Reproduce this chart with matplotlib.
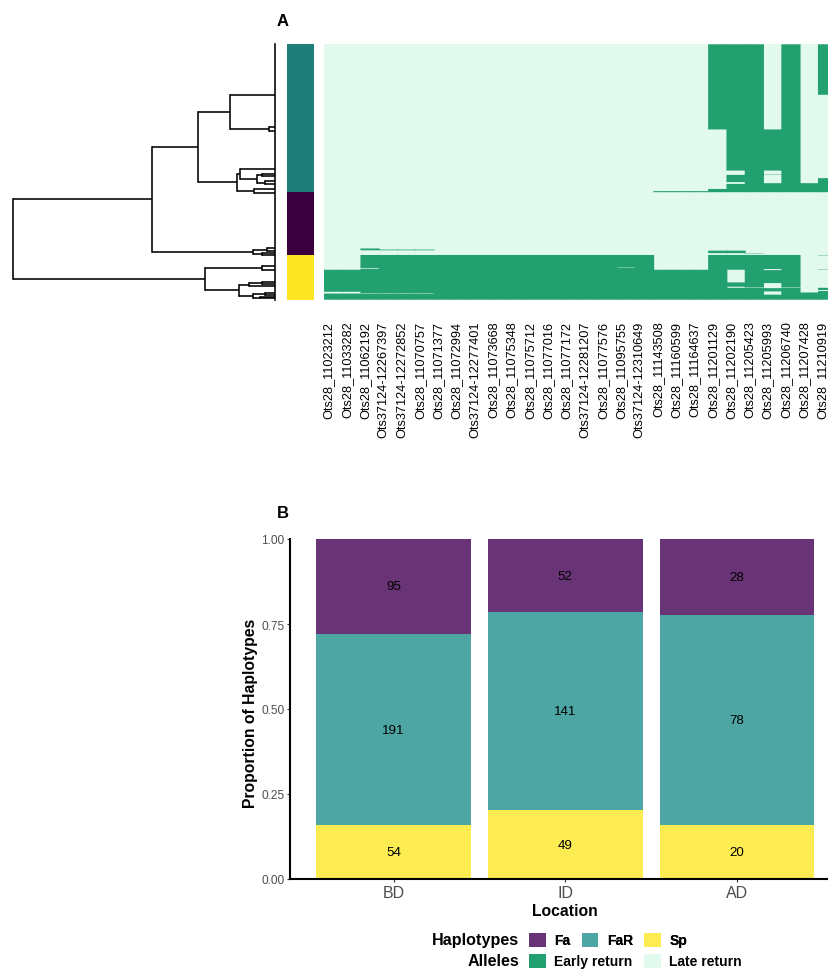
import numpy as np
import matplotlib
matplotlib.use("Agg")
import matplotlib.pyplot as plt
from matplotlib.patches import Patch

plt.rcParams['font.family'] = ['Liberation Sans', 'DejaVu Sans']

# haplotype counts per sampling location
locations = ['BD', 'ID', 'AD']
fa_counts = [95, 52, 28]
far_counts = [191, 141, 78]
sp_counts = [54, 49, 20]

loci = ['Ots28_11023212', 'Ots28_11033282', 'Ots28_11062192', 'Ots37124-12267397',
        'Ots37124-12272852', 'Ots28_11070757', 'Ots28_11071377', 'Ots28_11072994',
        'Ots37124-12277401', 'Ots28_11073668', 'Ots28_11075348', 'Ots28_11075712',
        'Ots28_11077016', 'Ots28_11077172', 'Ots37124-12281207', 'Ots28_11077576',
        'Ots28_11095755', 'Ots37124-12310649', 'Ots28_11143508', 'Ots28_11160599',
        'Ots28_11164637', 'Ots28_11201129', 'Ots28_11202190', 'Ots28_11205423',
        'Ots28_11205993', 'Ots28_11206740', 'Ots28_11207428', 'Ots28_11210919']

# haplotype rows in tree order (FaR block, Fa block, Sp block);
# for each locus, the row ranges [start, end) carrying the early-return allele
early_rows = [
    [(625, 686), (691, 708)],
    [(625, 686), (691, 708)],
    [(566, 571), (584, 620), (622, 690), (691, 708)],
    [(569, 571), (584, 690), (691, 708)],
    [(569, 571), (584, 690), (691, 708)],
    [(569, 571), (584, 690), (691, 708)],
    [(584, 708)],
    [(584, 708)],
    [(584, 708)],
    [(584, 708)],
    [(584, 708)],
    [(584, 708)],
    [(584, 708)],
    [(584, 708)],
    [(584, 708)],
    [(584, 708)],
    [(584, 619), (620, 708)],
    [(584, 708)],
    [(407, 410), (625, 708)],
    [(407, 410), (625, 708)],
    [(407, 410), (625, 708)],
    [(0, 236), (401, 410), (572, 579), (584, 708)],
    [(0, 350), (362, 382), (387, 410), (572, 579), (584, 625), (660, 672), (675, 708)],
    [(0, 410), (580, 581), (584, 674), (675, 708)],
    [(236, 350), (360, 361), (385, 410), (584, 623), (626, 662), (676, 685), (694, 708)],
    [(0, 410), (584, 674), (675, 708)],
    [(385, 410), (688, 708)],
    [(0, 140), (371, 410), (584, 585), (623, 624), (675, 681), (684, 708)],
]

# clustering of haplotypes: (height, child, child); a bare number is a tip row
tree = (1.0,
        (0.469,
         (0.295,
          (0.174, 140, (0.023, 228, 241)),
          (0.147,
           (0.135, 346, (0.069, (0.05, 360, 364), (0.04, 380, 388))),
           (0.08, 401, 412))),
         (0.084, (0.03, 566, 572), (0.05, 578, 585))),
        (0.268,
         (0.052, 615, 627),
         (0.140,
          (0.099, (0.05, 658, 664), 671),
          (0.084, (0.04, 690, 694), (0.06, 700, 704)))))

n_far, n_fa, n_sp = sum(far_counts), sum(fa_counts), sum(sp_counts)
n_rows = n_far + n_fa + n_sp

W, H = 829, 970
fig = plt.figure(figsize=(W / 100, H / 100), dpi=100)


def px_axes(x0, y0, x1, y1):
    return fig.add_axes([x0 / W, 1 - y1 / H, (x1 - x0) / W, (y1 - y0) / H])


# ---------------- A: dendrogram ----------------
ax_d = px_axes(13.3, 45.3, 275.3, 300.7)
ax_d.set_xlim(1.0, 0.0)
ax_d.set_ylim(n_rows, 0)
ax_d.axis('off')
lw = 1.15


def draw(node):
    if not isinstance(node, tuple):
        return node, 0.0
    h, a, b = node
    ya, ha = draw(a)
    yb, hb = draw(b)
    ax_d.plot([ha, h], [ya, ya], color='black', lw=lw, clip_on=False, solid_capstyle='butt')
    ax_d.plot([hb, h], [yb, yb], color='black', lw=lw, clip_on=False, solid_capstyle='butt')
    ax_d.plot([h, h], [ya, yb], color='black', lw=lw, clip_on=False, solid_capstyle='projecting')
    return (ya + yb) / 2, h


draw(tree)
# identical haplotypes join at zero distance
ax_d.plot([0, 0], [0, n_rows], color='black', lw=lw, clip_on=False)

# ---------------- A: haplotype bar ----------------
ax_g = px_axes(286.7, 45.3, 314.3, 300.7)
group_cols = ['#1f7e78', '#3a003e', '#fde725']
group_sizes = [n_far, n_fa, n_sp]
ax_g.bar([0, 0, 0], group_sizes, bottom=np.cumsum([0] + group_sizes[:-1]),
         width=1.0, color=group_cols, linewidth=0)
ax_g.set_xlim(-0.5, 0.5)
ax_g.set_ylim(n_rows, 0)
ax_g.axis('off')

# ---------------- A: allele heatmap ----------------
early_col = '#23a06f'
late_col = '#e2faee'
n_loci = len(loci)
ax_h = px_axes(324.3, 45.3, 324.3 + 18.3 * n_loci, 300.7)
ax_h.set_facecolor(late_col)
for j, spans in enumerate(early_rows):
    starts = [s for s, e in spans]
    lengths = [e - s for s, e in spans]
    # slightly wider than a cell so neighbouring columns close up without seams
    ax_h.bar([j + 0.5] * len(spans), lengths, bottom=starts, width=1.05,
             color=early_col, linewidth=0, snap=False)
ax_h.set_xlim(0, n_loci)
ax_h.set_ylim(n_rows, 0)
ax_h.set_xticks(np.arange(n_loci) + 0.24)
ax_h.set_xticklabels(loci, rotation=90, ha='center', va='top', fontsize=9.2)
ax_h.tick_params(axis='x', length=0, pad=15)
ax_h.set_yticks([])
for s in ax_h.spines.values():
    s.set_visible(False)

fig.text(277 / W, 1 - 22 / H, 'A', fontsize=12, fontweight='bold', va='center', ha='left')

# ---------------- B: stacked proportions ----------------
ax_b = px_axes(290.5, 540, 840, 880)
fa_c, far_c, sp_c = '#693476', '#4da6a3', '#fdec51'
tot = np.array(fa_counts) + np.array(far_counts) + np.array(sp_counts)
sp_p = np.array(sp_counts) / tot
far_p = np.array(far_counts) / tot
fa_p = np.array(fa_counts) / tot
xpos = np.arange(1, 4)
ax_b.bar(xpos, sp_p, width=0.9, color=sp_c, linewidth=0)
ax_b.bar(xpos, far_p, bottom=sp_p, width=0.9, color=far_c, linewidth=0)
ax_b.bar(xpos, fa_p, bottom=sp_p + far_p, width=0.9, color=fa_c, linewidth=0)
for i in range(3):
    ax_b.text(xpos[i], sp_p[i] / 2, str(sp_counts[i]), ha='center', va='center', fontsize=9.6)
    ax_b.text(xpos[i], sp_p[i] + far_p[i] / 2, str(far_counts[i]), ha='center', va='center', fontsize=9.6)
    ax_b.text(xpos[i], sp_p[i] + far_p[i] + fa_p[i] / 2, str(fa_counts[i]), ha='center', va='center', fontsize=9.6)

ax_b.set_xlim(0.4, 3.6)
ax_b.set_ylim(0, 1)
ax_b.set_xticks(xpos)
ax_b.set_xticklabels(locations, fontsize=11.5, color='#4d4d4d')
ax_b.set_yticks([0, 0.25, 0.5, 0.75, 1.0])
ax_b.set_yticklabels(['0.00', '0.25', '0.50', '0.75', '1.00'], fontsize=8.6, color='#4d4d4d')
ax_b.tick_params(length=2.5, width=0.8, color='#333333', pad=2)
for side in ['top', 'right']:
    ax_b.spines[side].set_visible(False)
for side in ['left', 'bottom']:
    ax_b.spines[side].set_linewidth(1.5)
ax_b.set_xlabel('Location', fontsize=11.3, fontweight='bold', labelpad=2)
fig.text(251 / W, 1 - 713 / H, 'Proportion of Haplotypes', rotation=90, fontsize=11.3,
         fontweight='bold', ha='center', va='center')
fig.text(277 / W, 1 - 514 / H, 'B', fontsize=12, fontweight='bold', va='center', ha='left')

# ---------------- legends ----------------
leg_font = {'weight': 'bold', 'size': 10}
hap_handles = [Patch(facecolor=c, edgecolor='none') for c in [fa_c, far_c, sp_c]]
all_handles = [Patch(facecolor=c, edgecolor='none') for c in [early_col, late_col]]
leg1 = fig.legend(hap_handles, ['Fa', 'FaR', 'Sp'], ncol=3, loc='center left',
                  bbox_to_anchor=(529 / W, 1 - 941 / H), frameon=False, prop=leg_font,
                  handlelength=1.22, handleheight=1.22, handletextpad=0.6,
                  columnspacing=0.8, borderpad=0, borderaxespad=0)
leg2 = fig.legend(all_handles, ['Early return', 'Late return'], ncol=2, loc='center left',
                  bbox_to_anchor=(529 / W, 1 - 962 / H), frameon=False, prop=leg_font,
                  handlelength=1.22, handleheight=1.22, handletextpad=0.6,
                  columnspacing=0.8, borderpad=0, borderaxespad=0)
fig.add_artist(leg1)
fig.text(519 / W, 1 - 941 / H, 'Haplotypes', fontsize=11.6, fontweight='bold', ha='right', va='center')
fig.text(519 / W, 1 - 962 / H, 'Alleles', fontsize=11.6, fontweight='bold', ha='right', va='center')

fig.savefig('out.png', dpi=100)
